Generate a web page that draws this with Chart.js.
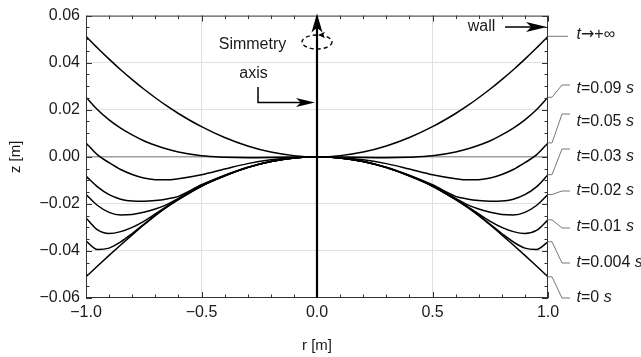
<!DOCTYPE html>
<html><head><meta charset="utf-8">
<script src="https://cdn.jsdelivr.net/npm/chart.js@4"></script>
<style>html,body{margin:0;padding:0;background:#fff;}canvas{display:block;}</style>
</head><body>
<canvas id="c" width="641" height="357"></canvas>
<script>
// ---- data ----
const rValues = [-1, -0.95, -0.9, -0.85, -0.8, -0.75, -0.7, -0.65, -0.6, -0.5, -0.4, -0.3, -0.2, -0.1, 0, 0.1, 0.2, 0.3, 0.4, 0.5, 0.6, 0.65, 0.7, 0.75, 0.8, 0.85, 0.9, 0.95, 1];
const zInf  = [0.0512, 0.0462, 0.0415, 0.0370, 0.0328, 0.0288, 0.0251, 0.0216, 0.0184, 0.0128, 0.0082, 0.0046, 0.0020, 0.0005, 0, 0.0005, 0.0020, 0.0046, 0.0082, 0.0128, 0.0184, 0.0216, 0.0251, 0.0288, 0.0328, 0.0370, 0.0415, 0.0462, 0.0512];
const z009  = [0.0253, 0.0200, 0.0157, 0.0122, 0.0093, 0.0068, 0.0049, 0.0033, 0.0020, 0.0004, -0.0002, -0.0004, -0.0003, -0.0001, 0, -0.0001, -0.0003, -0.0004, -0.0002, 0.0004, 0.0020, 0.0033, 0.0049, 0.0068, 0.0093, 0.0122, 0.0157, 0.0200, 0.0253];
const z005  = [0.0059, 0.0008, -0.0025, -0.0054, -0.0075, -0.0090, -0.0097, -0.0098, -0.0093, -0.0076, -0.0052, -0.0029, -0.0013, -0.0003, 0, -0.0003, -0.0013, -0.0029, -0.0052, -0.0076, -0.0093, -0.0098, -0.0097, -0.0090, -0.0075, -0.0054, -0.0025, 0.0008, 0.0059];
const z003  = [-0.0082, -0.0128, -0.0161, -0.0180, -0.0188, -0.0189, -0.0186, -0.0179, -0.0168, -0.0119, -0.0078, -0.0044, -0.0020, -0.0005, 0, -0.0005, -0.0020, -0.0044, -0.0078, -0.0119, -0.0168, -0.0179, -0.0186, -0.0189, -0.0188, -0.0180, -0.0161, -0.0128, -0.0076];
const z002  = [-0.0160, -0.0207, -0.0236, -0.0247, -0.0245, -0.0236, -0.0222, -0.0203, -0.0177, -0.0123, -0.0080, -0.0045, -0.0020, -0.0005, 0, -0.0005, -0.0020, -0.0045, -0.0080, -0.0123, -0.0177, -0.0203, -0.0222, -0.0236, -0.0245, -0.0247, -0.0236, -0.0207, -0.0160];
const z001  = [-0.0260, -0.0311, -0.0326, -0.0318, -0.0300, -0.0274, -0.0243, -0.0211, -0.0180, -0.0124, -0.0081, -0.0045, -0.0020, -0.0005, 0, -0.0005, -0.0020, -0.0045, -0.0081, -0.0124, -0.0180, -0.0211, -0.0243, -0.0274, -0.0300, -0.0318, -0.0326, -0.0313, -0.0268];
const z0004 = [-0.0358, -0.0394, -0.0388, -0.0362, -0.0326, -0.0287, -0.0248, -0.0213, -0.0181, -0.0124, -0.0081, -0.0046, -0.0020, -0.0005, 0, -0.0005, -0.0020, -0.0046, -0.0081, -0.0124, -0.0181, -0.0213, -0.0248, -0.0287, -0.0326, -0.0362, -0.0388, -0.0394, -0.0361];
const z0    = [-0.0510, -0.0464, -0.0419, -0.0375, -0.0332, -0.0290, -0.0250, -0.0214, -0.0182, -0.0125, -0.0082, -0.0046, -0.0020, -0.0005, 0, -0.0005, -0.0020, -0.0046, -0.0082, -0.0125, -0.0182, -0.0214, -0.0250, -0.0290, -0.0332, -0.0375, -0.0419, -0.0464, -0.0510];
const seriesList = [zInf, z009, z005, z003, z002, z001, z0004, z0];
const seriesTimes = ['→+∞', '=0.09 ', '=0.05 ', '=0.03 ', '=0.02 ', '=0.01 ', '=0.004 ', '=0 '];
const xTickValues = [-1, -0.5, 0, 0.5, 1];
const yTickValues = [-0.06, -0.04, -0.02, 0, 0.02, 0.04, 0.06];

// ---- layout (pixels) ----
const labelTextY = [35, 89, 122, 157, 191, 227, 263, 298];
const labelLeadY = [34, 85, 114, 149, 191, 228, 263, 298];
const FONT = '"Liberation Sans", Arial, sans-serif';
const TXT = '#1a1a1a';

function fmt(v, d) {
  const s = Math.abs(v).toFixed(d);
  return (v < -1e-9 ? '\u2212' : '') + s;
}

function arrowHead(ctx, tipX, tipY, dir, len, half) {
  ctx.beginPath();
  if (dir === 'up') {
    ctx.moveTo(tipX, tipY); ctx.lineTo(tipX - half, tipY + len); ctx.lineTo(tipX, tipY + len * 0.75); ctx.lineTo(tipX + half, tipY + len);
  } else if (dir === 'right') {
    ctx.moveTo(tipX, tipY); ctx.lineTo(tipX - len, tipY - half); ctx.lineTo(tipX - len * 0.75, tipY); ctx.lineTo(tipX - len, tipY + half);
  } else {
    ctx.moveTo(tipX, tipY); ctx.lineTo(tipX + len, tipY - half); ctx.lineTo(tipX + len * 0.75, tipY); ctx.lineTo(tipX + len, tipY + half);
  }
  ctx.closePath(); ctx.fill();
}

const overlay = {
  id: 'overlay',
  afterDatasetsDraw(chart) {
    const {ctx, chartArea: a, scales: {x, y}} = chart;
    ctx.save();
    // frame & ticks
    ctx.strokeStyle = '#333'; ctx.lineWidth = 1;
    ctx.beginPath();
    for (let i = -10; i <= 10; i++) {
      const px = Math.round(x.getPixelForValue(i / 10)) + 0.5;
      const len = (i % 5 === 0) ? 6 : 3.5;
      ctx.moveTo(px, a.bottom); ctx.lineTo(px, a.bottom - len);
      ctx.moveTo(px, a.top); ctx.lineTo(px, a.top + len);
    }
    for (let j = -12; j <= 12; j++) {
      const py = Math.round(y.getPixelForValue(j * 0.005)) + 0.5;
      const len = (j % 4 === 0) ? 6 : 3.5;
      ctx.moveTo(a.left, py); ctx.lineTo(a.left + len, py);
      ctx.moveTo(a.right, py); ctx.lineTo(a.right - len, py);
    }
    ctx.stroke();
    ctx.strokeRect(a.left + 0.5, a.top + 0.5, a.right - a.left - 1, a.bottom - a.top - 1);

    // symmetry axis
    const x0 = x.getPixelForValue(0);
    ctx.fillStyle = '#000'; ctx.strokeStyle = '#000';
    ctx.lineWidth = 2.2;
    ctx.beginPath(); ctx.moveTo(x0, a.bottom); ctx.lineTo(x0, a.top + 12); ctx.stroke();
    arrowHead(ctx, x0, a.top - 2, 'up', 19, 5.5);
    // dashed ellipse with small arrow
    ctx.lineWidth = 1.4; ctx.setLineDash([4, 3]);
    ctx.beginPath(); ctx.ellipse(x0, 42, 15, 7, 0, 0, Math.PI * 2); ctx.stroke();
    ctx.setLineDash([]);
    arrowHead(ctx, x0 + 1, 35, 'left', 7, 3.2);

    // texts
    ctx.fillStyle = TXT;
    ctx.font = '16px ' + FONT; ctx.textBaseline = 'middle'; ctx.textAlign = 'center';
    ctx.fillText('Simmetry', 252.5, 45);
    ctx.fillText('axis', 253.5, 74);
    ctx.fillText('wall', 481.5, 27);

    // axis arrow
    ctx.strokeStyle = '#000'; ctx.fillStyle = '#000'; ctx.lineWidth = 1.5;
    ctx.beginPath(); ctx.moveTo(258, 87); ctx.lineTo(258, 102.5); ctx.lineTo(302, 102.5); ctx.stroke();
    arrowHead(ctx, x0 - 2, 102.5, 'right', 19, 4.5);
    // wall arrow
    ctx.beginPath(); ctx.moveTo(505, 27); ctx.lineTo(532, 27); ctx.stroke();
    arrowHead(ctx, a.right - 1, 27, 'right', 21, 5);

    // callouts
    ctx.strokeStyle = '#777'; ctx.lineWidth = 1;
    seriesList.forEach((s, i) => {
      const yEnd = y.getPixelForValue(s[s.length - 1]);
      const ly = labelLeadY[i];
      ctx.beginPath();
      if (i === 0) {
        ctx.moveTo(a.right, yEnd); ctx.lineTo(a.right + 20, yEnd);
      } else {
        ctx.moveTo(a.right, yEnd); ctx.lineTo(a.right + 4, yEnd);
        ctx.lineTo(a.right + 14, ly); ctx.lineTo(a.right + 22, ly);
      }
      ctx.stroke();
      const tx = a.right + 28.5, ty = labelTextY[i];
      ctx.fillStyle = TXT; ctx.textAlign = 'left';
      ctx.font = 'italic 16px ' + FONT;
      ctx.fillText('t', tx, ty);
      let w = ctx.measureText('t').width;
      if (i === 0) {
        ctx.font = '16px "DejaVu Sans", sans-serif';
        ctx.fillText('\u2192', tx + w, ty);
        w += ctx.measureText('\u2192').width;
        ctx.font = '16px ' + FONT;
        ctx.fillText('+\u221E', tx + w, ty);
      } else {
        ctx.font = '16px ' + FONT;
        ctx.fillText(seriesTimes[i], tx + w, ty);
        w += ctx.measureText(seriesTimes[i]).width;
        ctx.font = 'italic 16px ' + FONT;
        ctx.fillText('s', tx + w, ty);
      }
    });
    ctx.restore();
  }
};

const datasets = seriesList.map((s, i) => ({
  label: 't' + seriesTimes[i],
  data: rValues.map((r, k) => ({x: r, y: s[k]})),
  borderColor: '#000',
  borderWidth: 1.5,
  pointRadius: 0,
  fill: false,
  cubicInterpolationMode: 'monotone'
}));

new Chart(document.getElementById('c'), {
  type: 'line',
  data: {datasets},
  plugins: [overlay],
  options: {
    responsive: false,
    animation: false,
    devicePixelRatio: 1,
    layout: {padding: {left: 0, right: 93, top: 13, bottom: 0}},
    plugins: {legend: {display: false}, tooltip: {enabled: false}},
    scales: {
      x: {
        type: 'linear', min: -1, max: 1,
        afterFit: s => { s.height = 59; },
        afterBuildTicks: s => { s.ticks = xTickValues.map(v => ({value: v})); },
        ticks: {callback: v => fmt(v, 1), font: {size: 16, family: FONT}, color: TXT, padding: 5, maxRotation: 0},
        grid: {
          drawTicks: false,
          color: c => (Math.abs(Math.abs(c.tick.value) - 1) < 1e-9 || Math.abs(c.tick.value) < 1e-9) ? 'rgba(0,0,0,0)' : '#e0e0e0',
          lineWidth: 1
        },
        border: {display: false},
        title: {display: true, text: 'r [m]', font: {size: 15, family: FONT}, color: TXT, padding: {top: 0, bottom: 2.4}}
      },
      y: {
        type: 'linear', min: -0.06, max: 0.06,
        afterFit: s => { s.width = 86; },
        afterBuildTicks: s => { s.ticks = yTickValues.map(v => ({value: v})); },
        ticks: {callback: v => fmt(v, 2), font: {size: 16, family: FONT}, color: TXT, padding: 6},
        grid: {
          drawTicks: false,
          color: c => Math.abs(c.tick.value) < 1e-9 ? '#a0a0a0' : (Math.abs(Math.abs(c.tick.value) - 0.06) < 1e-9 ? 'rgba(0,0,0,0)' : '#e0e0e0'),
          lineWidth: c => Math.abs(c.tick.value) < 1e-9 ? 1.6 : 1
        },
        border: {display: false},
        title: {display: true, text: 'z [m]', font: {size: 15, family: FONT}, color: TXT, padding: {top: 7, bottom: 0}}
      }
    }
  }
});
</script>
</body></html>
